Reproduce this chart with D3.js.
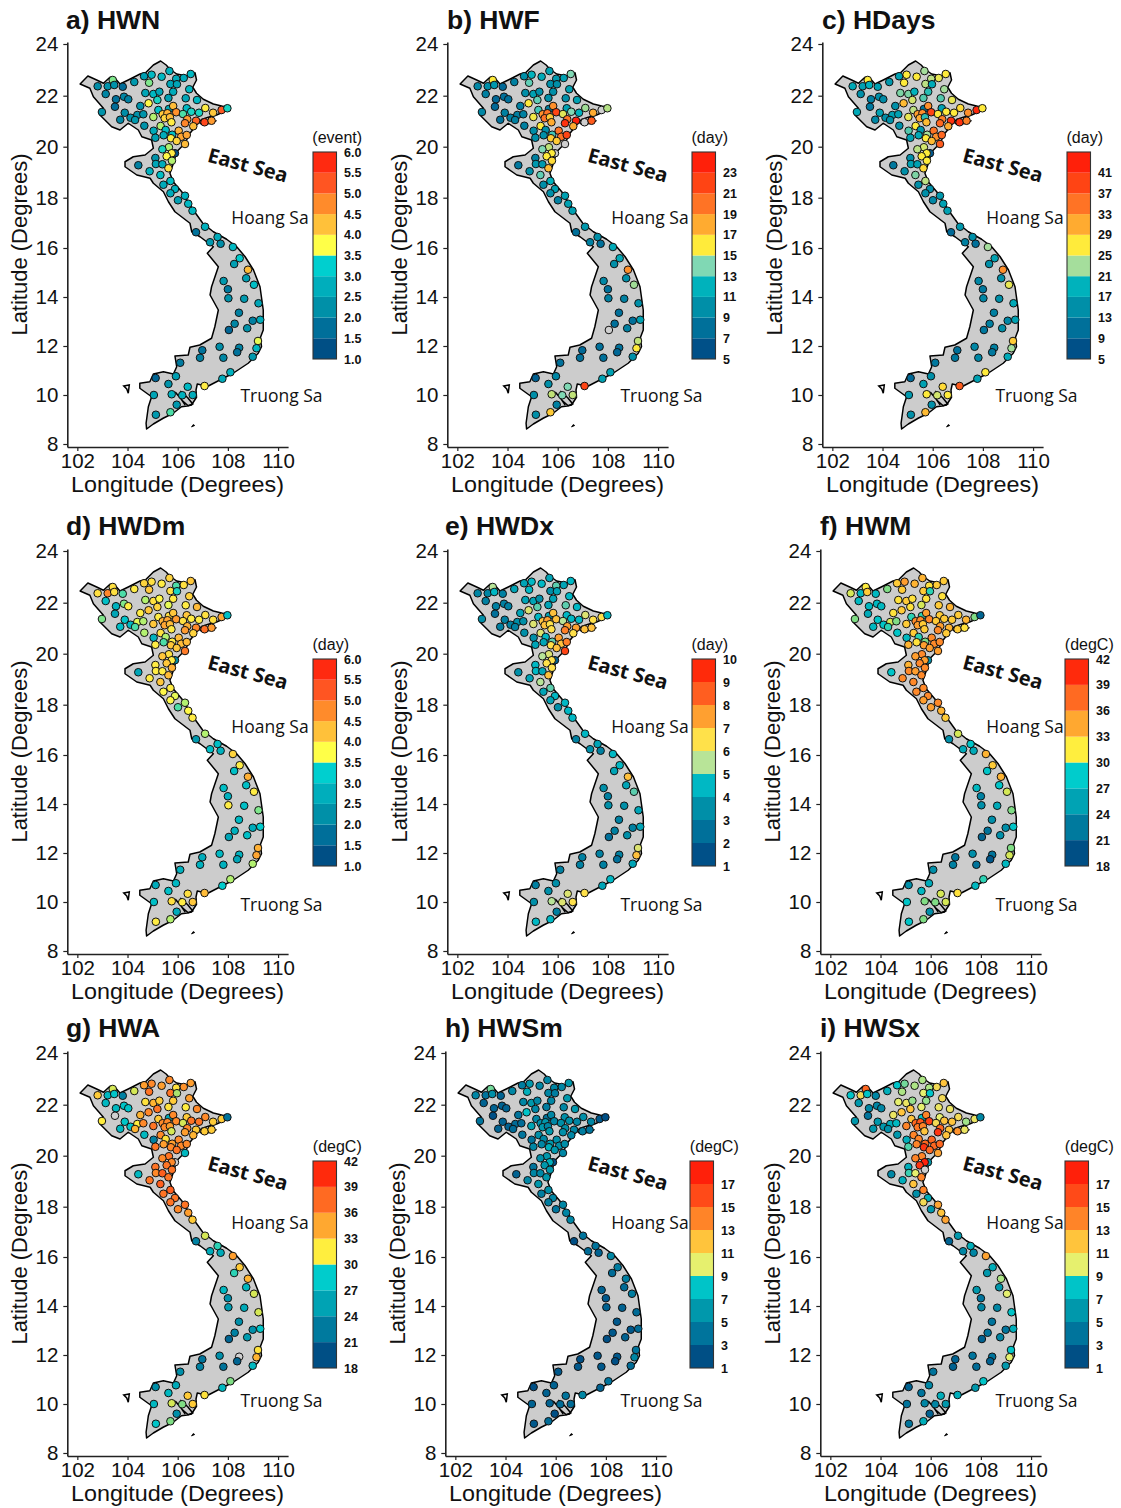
<!DOCTYPE html>
<html>
<head>
<meta charset="utf-8">
<script src="https://cdn.jsdelivr.net/npm/d3@7"></script>
<style>
body { margin: 0; background: #fff; }
text { font-family: "Liberation Sans", Arial, sans-serif; fill: #111; }
.label { font-family: "Open Sans", sans-serif; }
</style>
</head>
<body>
<div id="chart"></div>
<script>
// Stations
var stationLon = [103.41,102.81,103.21,103.47,103.81,104.27,104.66,104.96,104.86,105.36,
  105.67,106.52,106.24,105.94,105.71,105.97,106.46,103.13,103.54,103.86,
  104.03,104.71,105.03,105.27,105.82,105.63,106.32,106.77,105.19,104.84,
  103.5,102.98,103.89,104.51,104.39,104.63,103.71,104.12,104.3,104.67,
  105.03,105.23,105.65,105.82,105.94,106.36,106.54,106.85,106.21,107.1,
  107.41,107.75,107.98,105.4,105.59,105.48,105.69,105.75,
  106.38,106.29,106.73,107.07,107.35,106.62,105.32,105.04,105.52,106.04,
  105.44,105.78,106.14,106.36,105.73,105.96,105.11,106.29,105.65,105.39,
  105.89,105.76,105.11,105.56,105.77,105.13,105.39,104.43,105.63,104.88,
  105.31,105.71,105.43,105.89,105.71,106.29,106.01,106.42,106.59,
  107.09,106.73,107.59,107.29,107.71,108.2,108.47,108.25,108.8,108.73,
  107.83,109.04,108.0,108.02,108.65,109.22,108.44,108.99,109.29,108.27,
  108.77,108.04,109.2,109.14,107.67,106.98,108.45,108.37,106.89,107.82,
  108.99,106.1,108.1,107.78,105.93,105.12,105.63,106.4,107.07,105.05,
  105.76,106.18,106.6,105.96,105.71,105.13];
var stationLat = [22.56,22.31,22.31,22.36,22.29,22.48,22.71,22.77,22.45,22.69,
  22.92,22.8,22.64,22.61,22.4,22.39,22.19,22.0,21.79,21.89,
  21.79,22.04,22.0,22.09,22.09,21.84,21.83,21.76,21.76,21.63,
  21.49,21.28,21.25,21.52,21.16,21.19,20.97,21.05,20.96,20.73,
  21.08,21.36,21.4,21.52,21.27,21.43,21.29,21.25,21.2,21.44,
  21.25,21.36,21.43,21.19,21.23,21.03,21.07,20.87,
  20.99,20.83,20.93,20.87,20.93,20.71,20.72,20.53,20.56,20.53,
  20.35,20.37,20.29,20.36,20.23,20.12,20.25,20.0,19.87,19.79,
  19.63,19.63,19.44,19.51,19.33,19.2,19.19,19.15,19.03,18.91,
  18.76,18.52,18.37,18.2,18.03,17.93,17.75,17.61,17.33,
  16.69,16.47,16.28,16.07,16.01,15.88,15.43,15.2,14.97,14.63,
  14.52,14.37,14.19,13.83,13.81,13.63,13.25,12.93,12.97,12.81,
  12.63,12.56,12.12,11.83,11.89,11.75,11.85,11.67,11.45,11.45,
  11.49,11.25,10.87,10.61,10.71,10.64,10.4,10.29,10.32,9.96,
  9.99,9.95,9.96,9.57,9.27,9.17];

// Heatwave metrics per station, same order as the stations (null = out of scale, drawn grey)
var hwn = [3.5,2.2,2.3,2.3,1.7,2.4,2.5,2.9,3.5,2.9,
  2.8,2.9,2.7,2.7,2.6,2.6,2.9,2.1,1.8,2.1,
  2.0,2.6,2.9,2.6,2.7,2.5,2.6,2.9,3.3,3.8,
  1.7,2.3,2.2,2.3,2.3,2.3,2.1,2.3,2.4,2.3,
  3.6,3.0,2.7,4.3,4.7,2.9,3.3,3.3,3.4,3.9,
  4.2,5.2,3.3,4.2,4.4,4.1,4.3,3.9,
  4.6,4.8,5.1,5.4,4.6,4.3,3.6,2.7,3.0,4.4,
  2.7,3.0,4.5,4.5,3.9,4.1,2.5,4.3,3.6,3.3,
  1.2,3.9,2.3,3.8,3.6,2.6,2.7,2.0,4.0,2.8,
  3.0,3.0,2.7,2.8,2.7,2.8,2.5,2.9,2.9,
  2.8,1.8,2.7,2.4,2.2,2.9,3.2,2.5,4.3,2.5,
  2.4,3.0,1.9,2.3,2.4,2.6,2.0,2.0,2.7,2.1,
  2.3,1.6,3.7,2.9,2.2,1.8,2.0,1.8,2.0,2.1,
  2.4,1.9,2.8,2.7,2.5,1.6,2.3,2.9,3.9,2.6,
  2.8,2.8,2.7,2.4,3.4,2.4];
var hwf = [16,9.5,10,10.5,7.5,9,10,12,13.5,11.5,
  11,14,11,10.5,10,10,11,9,7.5,8,
  8,10,11,10,10,10,10,11,13.5,16,
  7.5,9.5,9,9,9,9,8,9,9,9,
  15.8,13,9,19,22,11,14,12,15.5,14.5,
  18,null,14.8,19,20,20,17,18,
  20,23,24,null,21,18,16,10,10,20,
  10,13,20,22,17,17,10,null,15,14,
  null,16,9,16,16.5,10.5,10.5,8.5,17.5,10,
  13.5,12,10,11,10,11,9,11,11,
  10.5,8,10,9,8,11.5,11.5,10,19,10,
  9.5,14.5,8,9,9,10,8,8,11,8,
  9,null,15,16,8,7.5,8,7.5,8,8,
  10,8,11,11,9.5,7,10,14,22,10,
  15,14,15,9,17,10];
var hdays = [27,18,17,19,17,16,17,27,27,27,
  23,27,26,24,24,18,23,15,13,15,
  14.5,22,22,19,20,21,21,26,25,30,
  12,18,17,15,17,17,14,15,15,15,
  26,24,12,33,39,17,27,27,27,28,
  33,42,27,32,33,31,20,30,
  34,36,41,41,34,31,27,21,16,35,
  18,23,33,36,27,30,17,37,25,24,
  8,27,15,27,27,17,17,12,28,15,
  22,24,15,15,15,16,14,17,17,
  16,10,15,13,11,23,17,15,33,15,
  14,26,12,14,15,18,13,14,17,13,
  15,12,29,23,14,11,13,12,12,14,
  18,12,27,17,15,10,17,28,37,16,
  27,25,27,15,30,15];
var hwdm = [4.0,4.0,4.8,4.0,3.4,3.9,4.1,4.0,4.2,3.9,
  4.1,4.2,4.0,3.4,4.0,3.3,4.1,3.0,2.8,3.5,
  3.9,3.6,4.0,3.8,3.9,3.7,3.9,4.3,4.1,4.2,
  2.6,3.5,3.1,3.9,3.7,3.6,3.0,2.9,3.4,3.6,
  4.2,3.9,4.0,4.2,4.6,4.2,3.9,3.9,4.0,4.0,
  4.0,4.5,3.0,4.4,4.5,4.5,4.3,3.9,
  4.4,4.6,4.8,5.0,4.6,4.1,4.0,2.8,3.6,4.3,
  3.4,3.9,4.3,4.3,4.2,4.2,3.9,4.9,4.0,4.2,
  2.2,3.9,3.9,4.2,4.4,3.9,3.9,2.6,4.3,3.9,
  4.2,3.9,3.8,3.7,3.8,3.6,3.4,3.8,3.9,
  3.6,2.4,3.0,3.0,2.8,4.1,3.9,3.0,4.4,3.0,
  3.0,3.9,2.8,3.9,3.0,3.5,2.9,2.7,3.2,2.8,
  3.0,2.6,4.4,4.5,2.9,2.7,2.8,2.6,2.8,2.8,
  3.6,2.8,3.6,3.2,2.9,2.7,3.0,4.0,4.3,3.0,
  4.0,3.9,4.2,2.7,3.6,3.9];
var hwdx = [5.5,3.2,3.2,4.5,3,4,4,4.5,4.5,4.5,
  4,4.5,4,5,3.5,4,4.5,3,3,3,
  3,4,4,3.5,4,4,5,4.5,5,6,
  2.5,3.5,3,4,3.5,3.5,3,3,3,3.5,
  6,4.5,4,7,7,4.5,4.5,4.5,5.5,6,
  6.5,6.5,4.5,7,7.5,7,6.5,6.5,
  7.5,8,7.5,7,7,6.5,6,3.5,4.5,7.5,
  4,5,7,8,6.5,7,4,9,6,5.5,
  2,6.5,4.5,6.5,6.5,4.5,4,3.5,7,4,
  5.5,5,4,4.5,4,4.5,3.5,4.5,4.5,
  4.5,3,4,3.5,3,4.5,4.5,4,7,4,
  3.5,5,3,3.5,3.5,4,3,3,4,3,
  3.5,2.5,6,7,3,3,3,2.5,3,3,
  4,3,4.5,4,3.5,3,3.5,6,6.5,3.5,
  5.5,6,6.5,3,4.5,4.5];
var hwm = [31.5,31,27,33,27,30,33,35,33,34,
  34,33,33,32,33,29,32,27,27,27,
  27,32,33,32,32,31,33,34,32,33,
  26,30,28,32,31,30,27,28,29,28,
  33,29,29,35,36,33,33,33,33,33,
  34,30,21,36,36,35,33,33,
  35,36,34,33,32,33,33,27,29,36,
  32,30,36,36,35,35,34,35,36,35,
  24,35,34,36,36,36,35,28,36,36,
  36,36,36,36,35,36,35,34,33,
  31,24,28,26,26,34,33,28,34,28,
  27,31,23,24,26,30,24,24,28,22,
  24,21,30,31,24,22,22,20,23,22,
  27,24,29,27,26,24,27,31,32,28,
  30,30,31,24,30,28];
var hwa = [31,33,27,28,23,31,35,36,37,35,
  36,35,35.5,32,37,30.5,35,27,27,28,
  28,32,34,33,33,32,31.5,36,37,36,
  null,31.5,28,34,31.5,36,27,28,34,27,
  37,33,26,36,36,33,37,37,31,36,
  33,33,22,36,36,36,35,31,
  36,35,33,33,33,34,36,23,32,36,
  35,35,36,36,36,37,37,27,37,36,
  null,36,37,37,37,36,38,27,37,37,
  38,38,37,37,37,37,36,35,33,
  31,23,29,26,26,35,33,29,34,27,
  27,31,24,25,26,31,24,24,28,23,
  25,21,32,34,24,22,null,21,23,22,
  27,24,30,27,26,24,27,33,32,27,
  31,30,33,24,30,28];
var hwsm = [9,5,4,5.5,3,5,4.5,6,7,5,
  5,6,5,5,5,4.5,6,3,3,3,
  3,5,6,5,5,4.5,5,6,5,8,
  2,4,3,4,3.5,3.5,3,3,3.5,4,
  6.5,5,4,5,5,5.5,5.5,5,5.5,5.5,
  5,2.5,2,5.5,6,6,5,6,
  5.5,5.5,5,4.5,4,5,5.5,4,5,5.5,
  5,6,5.5,5.5,7,6,5,5,6,5.5,
  2,7,4,6,6,5,5,3,6,5,
  6,5.5,4.5,5,4.5,5,4,5,5,
  4,2,4,3.5,3,5,4.5,3.5,4.5,3.5,
  3,4.5,2.5,3,3,3.5,2.5,2.5,3.5,2.5,
  3,2,4,5,2.5,2,2.5,2,2.5,2.5,
  3.5,2.5,4,3,3,2,3,4,5,3,
  3,3.5,3.5,2,3.5,2.5];
var hwsx = [15,8,11,8,5,7,8,9,9.5,9.5,
  9.5,12,11,9.5,10,8,11,6,5,5,
  5,10,10.5,9.3,9.3,10,10.5,10.5,12,12,
  4,6,6,10.5,7,7.5,6,6,5.5,6,
  14,12,8,14,16.5,10,12,12,11,11,
  9.4,10.5,5,15,15.5,14.5,14,12,
  15,17,12,13.5,10.5,12,14,7,14,15,
  14,15,15,15,17,15,8.7,13,14,14,
  6,18,7,17,null,8.5,10,5,14,7,
  12,14,5.5,7,11,13,6,12,13,
  6,3,7,5,5,13,7,6,9.5,6,
  6,10,4,5,5,8,4,4,7,4,
  5,3,8,10,4,3,4,3,3,3.5,
  6,4,8,6,5,3,4,7,7,4,
  5,5,6,3,7,4];

// Colour bins for each legend (lowest bin first)
var breaksHalf = [1,1.5,2,2.5,3,3.5,4,4.5,5,5.5,6];
var breaksDay5 = [5,7,9,11,13,15,17,19,21,23,25];
var breaksDay9 = [5,9,13,17,21,25,29,33,37,41,45];
var breaksInt = [1,2,3,4,5,6,7,8,9,10];
var breaksDeg = [18,21,24,27,30,33,36,39,42];
var breaksOdd = [1,3,5,7,9,11,13,15,17,19];

var coloursHalf = ["#004f85","#006f9a","#0090a8","#00aebc","#00cfcf","#ffff48","#ffc13a","#ff8b2b","#ff5522","#ff2a10"];
var coloursDay5 = ["#005088","#00709a","#008fa8","#00b2bc","#80d8b4","#ffeb3b","#ffab30","#ff7325","#ff4414","#ff200a"];
var coloursDay9 = ["#005088","#00709a","#008fa8","#00b2bc","#a5de9c","#ffeb3b","#ffab30","#ff7325","#ff4414","#ff200a"];
var coloursInt = ["#005088","#00709a","#008fa8","#00b8c4","#b8e498","#ffe14a","#ffa030","#ff5e20","#ff2a0a"];
var coloursDeg = ["#004f85","#007a9e","#00a3b4","#00cccc","#ffee3e","#ffa830","#ff6a22","#ff2a0c"];
var coloursOdd = ["#004f85","#00749c","#0098ac","#00c4c8","#e6f06e","#ffc43c","#ff8428","#ff4a18","#ff200a"];

// Outline of the country and the small bits around it
var coast = [[102.11,22.40],[102.42,22.72],[102.77,22.56],[103.04,22.43],[103.30,22.67],[103.50,22.63],[103.70,22.40],[104.03,22.56],
  [104.50,22.80],[104.72,22.85],[105.03,23.16],[105.32,23.32],[105.54,23.16],[105.69,22.99],[105.96,22.80],[106.36,22.72],
  [106.69,22.85],[106.75,22.56],[106.60,22.27],[106.75,22.03],[107.02,21.79],[107.42,21.60],[107.75,21.52],[108.08,21.45],
  [107.75,21.25],[107.55,21.16],[107.22,21.07],[106.95,20.98],[106.75,20.76],[106.49,20.43],[106.29,20.03],[105.96,19.69],
  [105.83,19.23],[105.69,18.83],[105.82,18.49],[106.16,18.09],[106.62,17.36],[107.0,16.83],[107.42,16.49],[107.95,16.19],
  [108.35,15.89],[108.68,15.50],[109.02,14.96],[109.28,14.29],[109.41,13.36],[109.41,12.56],[109.30,12.27],[109.34,11.89],
  [109.21,11.63],[108.81,11.23],[108.21,10.83],[107.68,10.56],[107.22,10.32],[106.95,10.36],[106.78,10.4],[106.73,10.16],
  [106.75,9.87],[106.55,9.56],[106.38,9.52],[106.15,9.49],[105.82,9.23],[105.42,9.03],[105.03,8.8],[104.76,8.6],
  [104.74,8.83],[104.83,9.49],[104.96,9.89],[104.49,10.23],[104.49,10.43],[104.89,10.49],[105.03,10.8],[105.43,10.89],
  [105.83,10.8],[105.96,11.09],[105.89,11.52],[106.42,11.56],[106.49,11.87],[106.88,11.96],[107.35,12.23],[107.48,12.69],
  [107.62,13.36],[107.29,13.96],[107.35,14.29],[107.62,15.09],[107.18,15.63],[107.42,15.89],
  [106.89,16.29],[106.56,16.49],[106.49,16.83],[105.89,17.29],[105.63,17.69],[105.43,18.09],[105.03,18.43],[104.9,18.63],
  [104.37,18.76],[103.9,19.09],[103.9,19.29],[104.23,19.49],[104.7,19.56],[105.03,19.83],[104.96,20.16],[104.57,20.29],
  [104.43,20.56],[104.03,20.83],[103.7,20.56],[103.37,20.69],[102.9,21.16],[103.04,21.43],[102.64,21.89],[102.5,22.23]];
var phuQuoc = [[103.85,10.32],[104.07,10.36],[104.03,10.03],[103.97,10.2]];
var conDao = [[106.55,8.68],[106.68,8.74],[106.62,8.78]];
var catBa = [[106.85,20.88],[107.05,20.82],[107.3,20.88],[107.55,20.93],[107.4,20.84],[107.05,20.76],[106.9,20.8]];
var river1 = [[105.9,10.08],[106.15,9.78],[106.3,9.56]];
var river2 = [[106.1,10.12],[106.4,9.85],[106.6,9.6],[106.42,9.53],[106.2,9.72]];

// Axis tick labels
var lonTicks = [102,104,106,108,110];
var latTicks = [8,10,12,14,16,18,20,22,24];

var panels = [
  {title: "a) HWN", unit: "(event)", values: hwn, breaks: breaksHalf, colours: coloursHalf, fmt: d3.format(".1f"), last: 6},
  {title: "b) HWF", unit: "(day)", values: hwf, breaks: breaksDay5, colours: coloursDay5, fmt: d3.format("d"), last: 23},
  {title: "c) HDays", unit: "(day)", values: hdays, breaks: breaksDay9, colours: coloursDay9, fmt: d3.format("d"), last: 41},
  {title: "d) HWDm", unit: "(day)", values: hwdm, breaks: breaksHalf, colours: coloursHalf, fmt: d3.format(".1f"), last: 6},
  {title: "e) HWDx", unit: "(day)", values: hwdx, breaks: breaksInt, colours: coloursInt, fmt: d3.format("d"), last: 10},
  {title: "f) HWM", unit: "(degC)", values: hwm, breaks: breaksDeg, colours: coloursDeg, fmt: d3.format("d"), last: 42},
  {title: "g) HWA", unit: "(degC)", values: hwa, breaks: breaksDeg, colours: coloursDeg, fmt: d3.format("d"), last: 42},
  {title: "h) HWSm", unit: "(degC)", values: hwsm, breaks: breaksOdd, colours: coloursOdd, fmt: d3.format("d"), last: 17},
  {title: "i) HWSx", unit: "(degC)", values: hwsx, breaks: breaksOdd, colours: coloursOdd, fmt: d3.format("d"), last: 17}
];

// Where each panel sits: map offset, legend left edge, legend top, title left, nudge of the sea labels
var layout = [
  {dx: 0, dy: 0, legX: 313, legY: 152, titleX: 66, seaX: 0, seaY: 0},
  {dx: 380, dy: 0, legX: 692, legY: 152, titleX: 447, seaX: 0, seaY: 0},
  {dx: 755, dy: 0, legX: 1067, legY: 152, titleX: 822, seaX: 0, seaY: 0},
  {dx: 0, dy: 507, legX: 313, legY: 659, titleX: 66, seaX: 0, seaY: 2},
  {dx: 380, dy: 507, legX: 692, legY: 659, titleX: 445, seaX: 0, seaY: 2},
  {dx: 753, dy: 507, legX: 1065, legY: 659, titleX: 820, seaX: 2, seaY: 2},
  {dx: 0, dy: 1009, legX: 313, legY: 1161, titleX: 66, seaX: 0, seaY: -4},
  {dx: 378, dy: 1009, legX: 690, legY: 1161, titleX: 445, seaX: 2, seaY: -4},
  {dx: 753, dy: 1009, legX: 1065, legY: 1161, titleX: 820, seaX: 2, seaY: -4}
];

var svgWidth = 1121;
var svgHeight = 1508;
var legendW = 23.5;
var legendH = 207;

var svg = d3.select("#chart")
  .append("svg")
  .attr("width", svgWidth)
  .attr("height", svgHeight);

var xScale = d3.scaleLinear().domain([101.6, 110.4]).range([67.3, 288.1]);
// Marks were read with a flat 25 px per degree
var yScale = d3.scaleLinear().domain([7.88, 24.08]).range([447, 42]);
// The ticks in the picture are a bit wider apart up north (map projection)
var yTickScale = d3.scaleLinear()
  .domain([7.88, 8, 10, 12, 14, 16, 18, 20, 22, 24, 24.08])
  .range([447, 444, 395, 346, 297, 248, 197.7, 146.7, 95.7, 44, 42]);
var geoLine = d3.line().x(d => xScale(d[0])).y(d => yScale(d[1]));

function drawAxes(g) {
  var bottomAxis = d3.axisBottom(xScale).tickValues(lonTicks).tickSize(4).tickSizeOuter(0).tickPadding(2);
  var leftAxis = d3.axisLeft(yTickScale).tickValues(latTicks).tickSize(4).tickSizeOuter(0).tickPadding(5);

  var xAxis = g.append("g").attr("transform", "translate(0,447)").call(bottomAxis);
  var yAxis = g.append("g").attr("transform", "translate(67.3,0)").call(leftAxis);
  [xAxis, yAxis].forEach(function(a) {
    a.selectAll("text").style("font-size", "20.5px").attr("fill", "#111");
    a.selectAll("line").attr("stroke", "#222").attr("stroke-width", 1.2);
    a.select(".domain").attr("stroke", "#222").attr("stroke-width", 1.6);
  });

  g.append("text").attr("x", 177.5).attr("y", 492).attr("text-anchor", "middle")
    .attr("textLength", 213).attr("lengthAdjust", "spacingAndGlyphs")
    .style("font-size", "22.5px").text("Longitude (Degrees)");
  g.append("text").attr("transform", "translate(27,244.5) rotate(-90)").attr("text-anchor", "middle")
    .style("font-size", "22px").text("Latitude (Degrees)");
}

function drawMap(g, box) {
  g.append("path").attr("d", geoLine(coast) + "Z")
    .attr("fill", "#cccccc").attr("stroke", "#000").attr("stroke-width", 1.5).attr("stroke-linejoin", "round");
  g.append("path").attr("d", geoLine(phuQuoc) + "Z").attr("fill", "#fff").attr("stroke", "#000").attr("stroke-width", 1.5);
  [conDao, catBa].forEach(function(p) {
    g.append("path").attr("d", geoLine(p) + "Z").attr("fill", "#000").attr("stroke", "#000").attr("stroke-width", 0.8);
  });
  [river1, river2].forEach(function(p) {
    g.append("path").attr("d", geoLine(p)).attr("fill", "none").attr("stroke", "#000").attr("stroke-width", 1.5);
  });

  g.append("text").attr("class", "label")
    .attr("transform", `translate(${246 + box.seaX},${172 + (box.seaY < 0 ? -1 : 0)}) rotate(15)`)
    .attr("text-anchor", "middle").style("font-size", "20px").style("font-weight", "bold").text("East Sea");
  g.append("text").attr("class", "label").attr("x", 270 + box.seaX).attr("y", 224 + box.seaY)
    .attr("text-anchor", "middle").style("font-size", "17.5px").text("Hoang Sa");
  g.append("text").attr("class", "label").attr("x", 281.5 + box.seaX).attr("y", 402 + box.seaY)
    .attr("text-anchor", "middle").style("font-size", "17.5px").text("Truong Sa");
}

function drawStations(g, p) {
  // Dots take a continuous colour running through the middle of each legend bin
  var mids = d3.pairs(p.breaks).map(d => (d[0] + d[1]) / 2);
  var colour = d3.scaleLinear().domain(mids).range(p.colours).clamp(true);

  g.selectAll("circle")
    .data(p.values)
    .enter()
    .append("circle")
    .attr("cx", (d, i) => xScale(stationLon[i]))
    .attr("cy", (d, i) => yScale(stationLat[i]))
    .attr("r", 3.8)
    .attr("fill", d => d === null ? "#cfcfcf" : colour(d))
    .attr("stroke", "#111")
    .attr("stroke-width", 1);
}

function drawLegend(g, p, box) {
  var lo = p.breaks[0];
  var hi = p.breaks[p.breaks.length - 1];
  var legScale = d3.scaleLinear().domain([lo, hi]).range([box.legY + legendH, box.legY]);

  g.selectAll("rect.bin")
    .data(d3.pairs(p.breaks))
    .enter()
    .append("rect")
    .attr("class", "bin")
    .attr("x", box.legX)
    .attr("width", legendW)
    .attr("y", d => legScale(d[1]))
    .attr("height", d => legScale(d[0]) - legScale(d[1]))
    .attr("fill", (d, i) => p.colours[i]);
  g.append("rect")
    .attr("x", box.legX).attr("y", box.legY)
    .attr("width", legendW).attr("height", legendH)
    .attr("fill", "none").attr("stroke", "#333").attr("stroke-width", 1.1);

  g.selectAll("text.tick")
    .data(p.breaks.filter(d => d <= p.last))
    .enter()
    .append("text")
    .attr("class", "tick")
    .attr("x", box.legX + legendW + 7.5)
    .attr("y", d => legScale(d) + 4.5)
    .style("font-size", "12.5px")
    .style("font-weight", "bold")
    .text(p.fmt);

  g.append("text")
    .attr("x", box.legX + legendW / 2 + (p.unit === "(day)" ? 6 : 12.5))
    .attr("y", box.legY - 9)
    .attr("text-anchor", "middle")
    .style("font-size", "16px")
    .text(p.unit);
}

panels.forEach(function(p, i) {
  var box = layout[i];
  var g = svg.append("g").attr("transform", `translate(${box.dx}, ${box.dy})`);

  drawMap(g, box);
  drawAxes(g);
  drawStations(g.append("g"), p);

  svg.append("text")
    .attr("x", box.titleX)
    .attr("y", 29 + box.dy - (box.dy > 0 ? 1 : 0))
    .style("font-size", "26.5px")
    .style("font-weight", "bold")
    .text(p.title);

  drawLegend(svg.append("g"), p, box);
});
</script>
</body>
</html>
